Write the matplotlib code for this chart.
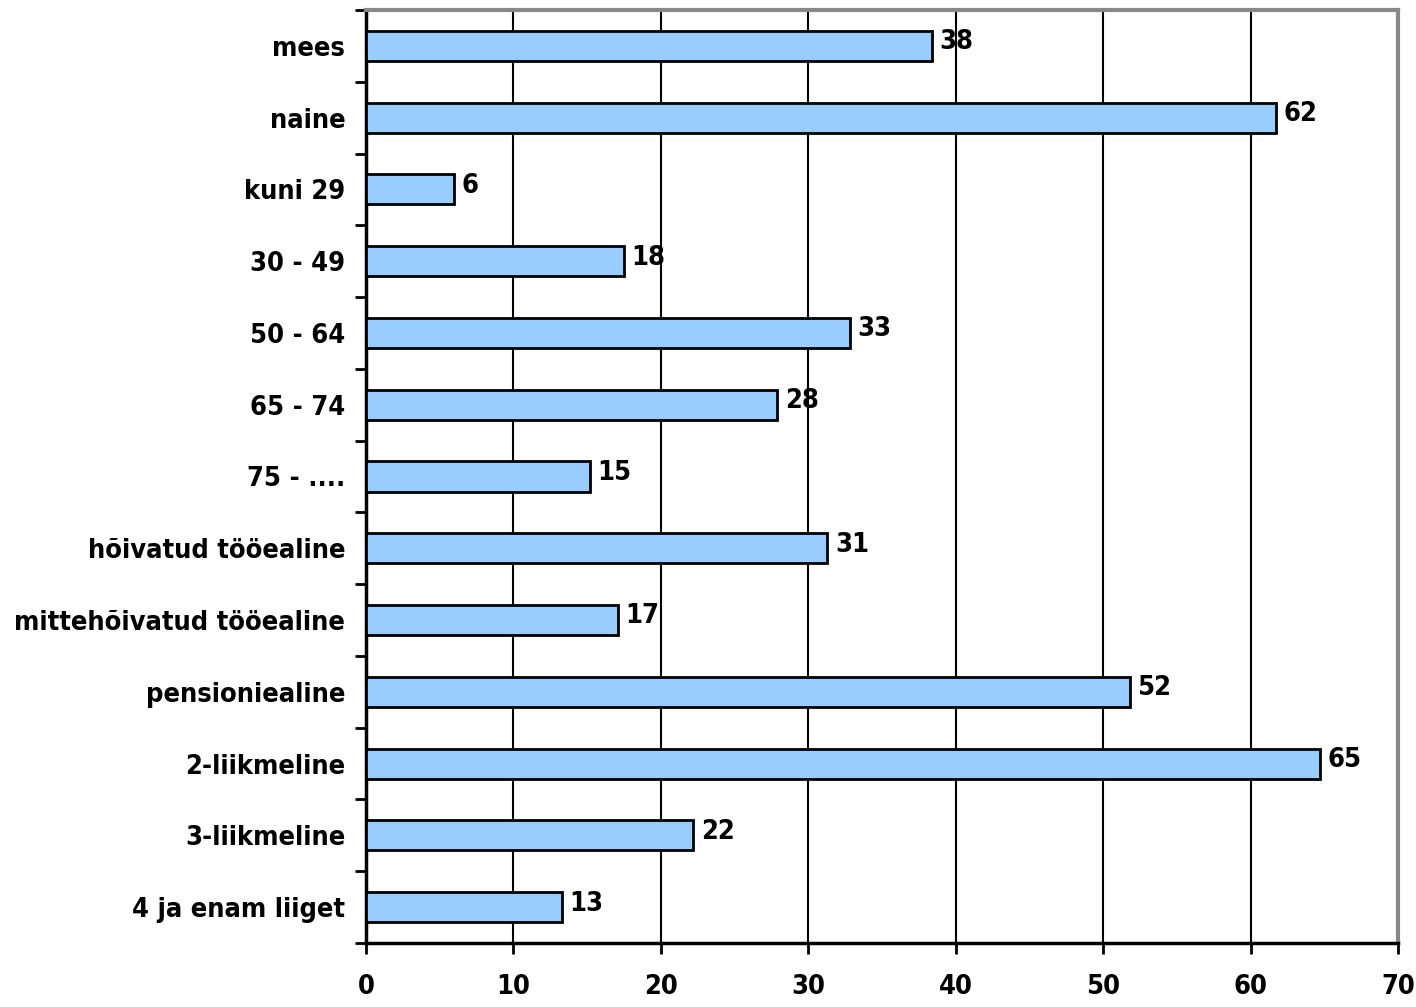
import matplotlib
matplotlib.use("Agg")
import matplotlib.pyplot as plt
import numpy as np

categories = ["mees", "naine", "kuni 29", "30 - 49", "50 - 64", "65 - 74", "75 - ....",
              "hõivatud tööealine", "mittehõivatud tööealine", "pensioniealine",
              "2-liikmeline", "3-liikmeline", "4 ja enam liiget"]
values = [38.4, 61.7, 6.0, 17.5, 32.8, 27.9, 15.2, 31.3, 17.1, 51.8, 64.7, 22.2, 13.3]
labels = ["38", "62", "6", "18", "33", "28", "15", "31", "17", "52", "65", "22", "13"]
xticks = [0, 10, 20, 30, 40, 50, 60, 70]

font = dict(family="DejaVu Sans", stretch="condensed", weight="bold", size=19.5)

fig = plt.figure(figsize=(14.16, 10.07), dpi=100)
ax = fig.add_axes([366 / 1416, 1 - 943 / 1007, 1032 / 1416, 933 / 1007])

y = np.arange(len(categories))
ax.barh(y, values, height=0.42, color="#99CCFF", edgecolor="black", linewidth=2, zorder=3)
for yi, v, lab in zip(y, values, labels):
    ax.text(v + 0.5, yi - 0.05, lab, va="center", ha="left", fontdict=font)

ax.set_xlim(0, 70)
ax.set_ylim(len(categories) - 0.5, -0.5)
ax.set_xticks(xticks)
ax.set_xticklabels([str(t) for t in xticks], fontdict=font)
ax.set_yticks(y)
ax.set_yticklabels(categories, fontdict=font)
ax.set_yticks(np.arange(-0.5, len(categories)), minor=True)
ax.tick_params(axis="y", which="major", length=0, pad=15)
ax.tick_params(axis="y", which="minor", length=8, width=2, direction="out")
ax.tick_params(axis="x", length=8, width=2, direction="out", pad=14)
ax.grid(axis="x", color="black", linewidth=1.5, zorder=0)

ax.spines["left"].set_linewidth(2.5)
ax.spines["bottom"].set_linewidth(2.5)
ax.spines["top"].set_color("#888888")
ax.spines["right"].set_color("#888888")
ax.spines["top"].set_linewidth(3)
ax.spines["right"].set_linewidth(3)

plt.savefig("out.png", dpi=100)
